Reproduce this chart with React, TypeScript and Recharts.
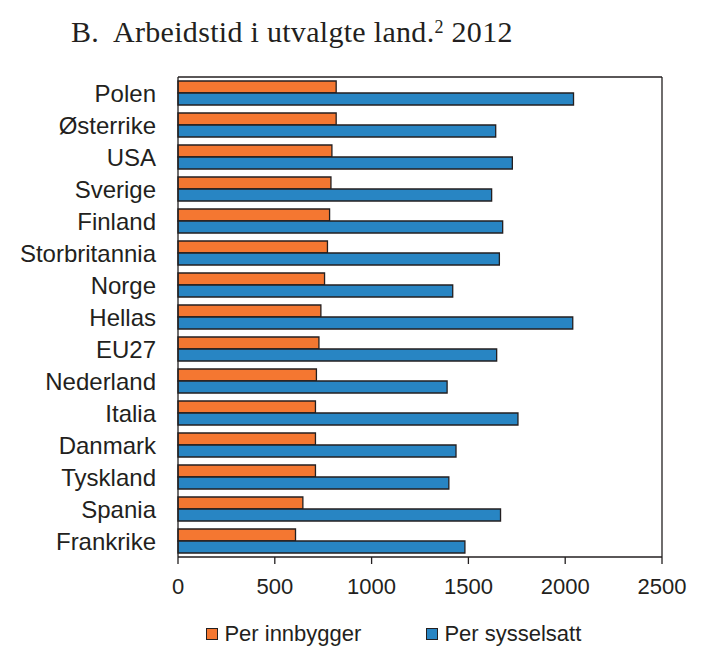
import React from 'react'
import { BarChart, Bar, XAxis, YAxis, Legend } from 'recharts'

const LAND = [
  'Polen', 'Østerrike', 'USA', 'Sverige', 'Finland', 'Storbritannia', 'Norge', 'Hellas',
  'EU27', 'Nederland', 'Italia', 'Danmark', 'Tyskland', 'Spania', 'Frankrike',
]
const PER_INNBYGGER = [817, 817, 795, 790, 783, 772, 757, 738, 728, 715, 710, 710, 710, 645, 607]
const PER_SYSSELSATT = [2043, 1641, 1727, 1620, 1677, 1660, 1419, 2039, 1646, 1390, 1756, 1436, 1399, 1666, 1482]
const X_TICKS = [0, 500, 1000, 1500, 2000, 2500]
const EDGE_TICKS = [0, 1, 2, 3, 4, 5, 6, 7, 8, 9, 10, 11, 12, 13, 14, 15]

const ORANGE = '#f47731'
const BLUE = '#2885c3'
const INK = '#231f20'
const SANS = '"Liberation Sans", Arial, sans-serif'

const data = LAND.map((land, i) => ({
  land,
  innbygger: PER_INNBYGGER[i],
  sysselsatt: PER_SYSSELSATT[i],
}))

function LegendBox() {
  const items = [
    { label: 'Per innbygger', color: ORANGE },
    { label: 'Per sysselsatt', color: BLUE },
  ]
  return (
    <div style={{ display: 'flex', paddingLeft: 206, fontFamily: SANS, fontSize: 22, lineHeight: '22px', color: INK }}>
      {items.map((it) => (
        <div key={it.label} style={{ display: 'flex', alignItems: 'center', width: 220 }}>
          <span style={{ width: 10.4, height: 10.4, background: it.color, border: `1.3px solid ${INK}`, marginRight: 6 }} />
          <span>{it.label}</span>
        </div>
      ))}
    </div>
  )
}

export default function App() {
  return (
    <div style={{ position: 'absolute', left: 0, top: 0, width: 724, height: 672, background: '#fff' }}>
      <div style={{ position: 'absolute', left: 71, top: 17, fontFamily: '"Liberation Serif", "Times New Roman", serif', fontSize: 30, lineHeight: '30px', letterSpacing: 0.3, whiteSpace: 'pre', color: INK }}>
        B.  Arbeidstid i utvalgte land.<span style={{ fontSize: 18, position: 'relative', top: -9 }}>2</span> 2012
      </div>
      <div style={{ position: 'absolute', left: 0, top: 0 }}>
        <BarChart
          width={724}
          height={672}
          data={data}
          layout="vertical"
          margin={{ top: 76, right: 61, left: 0, bottom: 75 }}
          barGap={0}
        >
          <XAxis
            xAxisId="x"
            type="number"
            domain={[0, 2500]}
            ticks={X_TICKS}
            height={40}
            tickSize={7}
            tickMargin={14}
            axisLine={{ stroke: INK, strokeWidth: 1.3 }}
            tickLine={{ stroke: INK, strokeWidth: 1.3 }}
            tick={{ fill: INK, fontSize: 22, fontFamily: SANS }}
          />
          <XAxis
            xAxisId="top"
            orientation="top"
            type="number"
            domain={[0, 2500]}
            height={1}
            tick={false}
            tickLine={false}
            axisLine={{ stroke: INK, strokeWidth: 1.3 }}
          />
          <YAxis
            yAxisId="cat"
            type="category"
            dataKey="land"
            width={171}
            tickSize={0}
            tickMargin={15}
            tickLine={false}
            axisLine={false}
            interval={0}
            tick={{ fill: INK, fontSize: 24, fontFamily: SANS }}
          />
          {/* boundary ticks between the countries, and the left border */}
          <YAxis
            yAxisId="a_edge"
            type="number"
            domain={[0, 15]}
            ticks={EDGE_TICKS}
            width={7}
            tickSize={7}
            tick={false}
            tickLine={{ stroke: INK, strokeWidth: 1.3 }}
            axisLine={{ stroke: INK, strokeWidth: 1.3 }}
          />
          <YAxis
            yAxisId="right"
            orientation="right"
            type="number"
            domain={[0, 1]}
            width={1}
            tick={false}
            tickLine={false}
            axisLine={{ stroke: INK, strokeWidth: 1.3 }}
          />
          <Legend
            layout="horizontal"
            verticalAlign="middle"
            align="center"
            wrapperStyle={{ left: 0, top: 623, width: 724 }}
            content={() => <LegendBox />}
          />
          <Bar
            xAxisId="x"
            yAxisId="cat"
            dataKey="innbygger"
            name="Per innbygger"
            fill={ORANGE}
            stroke={INK}
            strokeWidth={1.3}
            barSize={12}
            isAnimationActive={false}
          />
          <Bar
            xAxisId="x"
            yAxisId="cat"
            dataKey="sysselsatt"
            name="Per sysselsatt"
            fill={BLUE}
            stroke={INK}
            strokeWidth={1.3}
            barSize={12}
            isAnimationActive={false}
          />
        </BarChart>
      </div>
    </div>
  )
}
